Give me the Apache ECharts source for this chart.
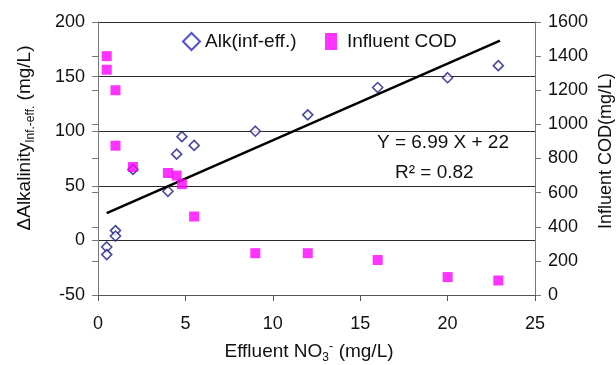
<!DOCTYPE html>
<html>
<head>
<meta charset="utf-8">
<script src="https://cdn.jsdelivr.net/npm/echarts@6/dist/echarts.min.js"></script>
<style>
html,body{margin:0;padding:0;background:#fff;}
#chart{width:616px;height:365px;}
</style>
</head>
<body>
<div id="chart"></div>
<script>
// Data
var effluentNO3 = [0.5, 0.5, 1, 1, 2, 4, 4.5, 4.8, 5.5, 9, 12, 16, 20, 22.9];
var alkDiff     = [-6, -13, 9, 4, 65, 45, 79, 95, 87, 100, 115, 140, 149, 160];
var codX        = [0.5, 0.5, 1, 1, 2, 4, 4.5, 4.8, 5.5, 9, 12, 16, 20, 22.9];
var influentCOD = [1400, 1320, 1200, 875, 750, 715, 700, 650, 460, 245, 245, 205, 105, 85];
var trendX = [0.5, 23];
var trendY = [25, 183];
var xTicks = [0, 5, 10, 15, 20, 25];
var leftTicks = [-50, 0, 50, 100, 150, 200];
var rightTicks = [0, 200, 400, 600, 800, 1000, 1200, 1400, 1600];
var equationText = 'Y = 6.99 X + 22';
var r2Text = 'R\u00B2 = 0.82';

function pairs(xs, ys) { return xs.map(function (x, i) { return [x, ys[i]]; }); }
function plain(v) { return String(v); }

var FONT = "'Liberation Sans', Arial, sans-serif";
var chart = echarts.init(document.getElementById('chart'), null, {renderer: 'canvas'});

var option = {
  backgroundColor: '#fff',
  animation: false,
  textStyle: {fontFamily: FONT},
  grid: {left: 98, right: 81, top: 22, bottom: 70, containLabel: false},
  legend: [
    {
      data: ['Alk(inf-eff.)'], left: 182, top: 32, padding: 0,
      itemWidth: 17, itemHeight: 17, icon: 'diamond',
      itemStyle: {color: '#fff', borderColor: '#2222dd', borderWidth: 2},
      textStyle: {fontSize: 19, color: '#111', fontFamily: FONT}
    },
    {
      data: ['Influent COD'], left: 325, top: 32, padding: 0,
      itemWidth: 12, itemHeight: 17, icon: 'rect',
      itemStyle: {color: '#ff00ff', borderWidth: 0},
      textStyle: {fontSize: 19, color: '#111', fontFamily: FONT, padding: [0, 0, 0, 5]}
    }
  ],
  xAxis: {
    type: 'value', min: xTicks[0], max: xTicks[xTicks.length - 1], interval: 5,
    axisLine: {show: true, onZero: false, lineStyle: {color: '#555', width: 1}},
    axisTick: {show: true, inside: false, length: 6, lineStyle: {color: '#555'}},
    axisLabel: {fontSize: 18, color: '#111', margin: 20, fontFamily: FONT, formatter: plain},
    splitLine: {show: false}
  },
  yAxis: [
    {
      type: 'value', position: 'left', min: leftTicks[0], max: leftTicks[leftTicks.length - 1], interval: 50,
      axisLine: {show: true, onZero: false, lineStyle: {color: '#777', width: 1}},
      axisTick: {show: true, inside: false, length: 6, lineStyle: {color: '#777'}},
      axisLabel: {fontSize: 18, color: '#111', margin: 13, fontFamily: FONT, formatter: plain},
      splitLine: {show: true, lineStyle: {color: '#2a2a2a', width: 1.2}}
    },
    {
      type: 'value', position: 'right', min: rightTicks[0], max: rightTicks[rightTicks.length - 1], interval: 200,
      axisLine: {show: true, onZero: false, lineStyle: {color: '#777', width: 1}},
      axisTick: {show: true, inside: false, length: 6, lineStyle: {color: '#777'}},
      axisLabel: {fontSize: 18, color: '#111', margin: 13, fontFamily: FONT, formatter: plain},
      splitLine: {show: false}
    },
    {
      type: 'value', position: 'right', min: rightTicks[0], max: rightTicks[rightTicks.length - 1], interval: 200,
      axisLine: {show: false},
      axisTick: {show: true, inside: true, length: 6, lineStyle: {color: '#777'}},
      axisLabel: {show: false},
      splitLine: {show: false}
    }
  ],
  series: [
    {
      name: 'Alk(inf-eff.)', type: 'scatter', yAxisIndex: 0,
      data: pairs(effluentNO3, alkDiff),
      symbol: 'diamond', symbolSize: 10,
      itemStyle: {color: '#fff', borderColor: '#1a1a8e', borderWidth: 1.6},
      z: 2
    },
    {
      name: 'trend', type: 'line', yAxisIndex: 0,
      data: pairs(trendX, trendY),
      showSymbol: false, symbol: 'none', silent: true,
      lineStyle: {color: '#000', width: 2.5},
      z: 3
    },
    {
      name: 'Influent COD', type: 'scatter', yAxisIndex: 1,
      data: pairs(codX, influentCOD),
      symbol: 'rect', symbolSize: 10,
      itemStyle: {color: '#ff00ff'},
      z: 4
    }
  ],
  graphic: [
    {
      type: 'text', x: 509, y: 143, z: 10,
      style: {text: equationText, font: '19px ' + FONT, fill: '#111', align: 'right', verticalAlign: 'middle'}
    },
    {
      type: 'text', x: 395, y: 173, z: 10,
      style: {text: r2Text, font: '19px ' + FONT, fill: '#111', align: 'left', verticalAlign: 'middle'}
    },
    {
      type: 'text', x: 309, y: 352, z: 10,
      style: {
        text: '{a|Effluent NO}{sub|3}{sup|-}{a| (mg/L)}',
        align: 'center', verticalAlign: 'middle', fill: '#111',
        rich: {
          a: {fontSize: 19, lineHeight: 24, fontFamily: FONT, fill: '#111'},
          sub: {fontSize: 12, lineHeight: 12, verticalAlign: 'bottom', fontFamily: FONT, fill: '#111'},
          sup: {fontSize: 13, lineHeight: 13, verticalAlign: 'top', fontFamily: FONT, fill: '#111'}
        }
      }
    },
    {
      type: 'text', x: 25, y: 138, rotation: Math.PI / 2, z: 10,
      style: {
        text: '{a|\u0394Alkalinity}{sub|Inf.-eff.}{a| (mg/L)}',
        align: 'center', verticalAlign: 'middle', fill: '#111',
        rich: {
          a: {fontSize: 19, lineHeight: 24, fontFamily: FONT, fill: '#111'},
          sub: {fontSize: 12, lineHeight: 12, verticalAlign: 'bottom', fontFamily: FONT, fill: '#111'}
        }
      }
    },
    {
      type: 'text', x: 606, y: 151, rotation: Math.PI / 2, z: 10,
      style: {text: 'Influent COD(mg/L)', font: '18px ' + FONT, fill: '#111', align: 'center', verticalAlign: 'middle'}
    }
  ]
};
chart.setOption(option);
</script>
</body>
</html>
